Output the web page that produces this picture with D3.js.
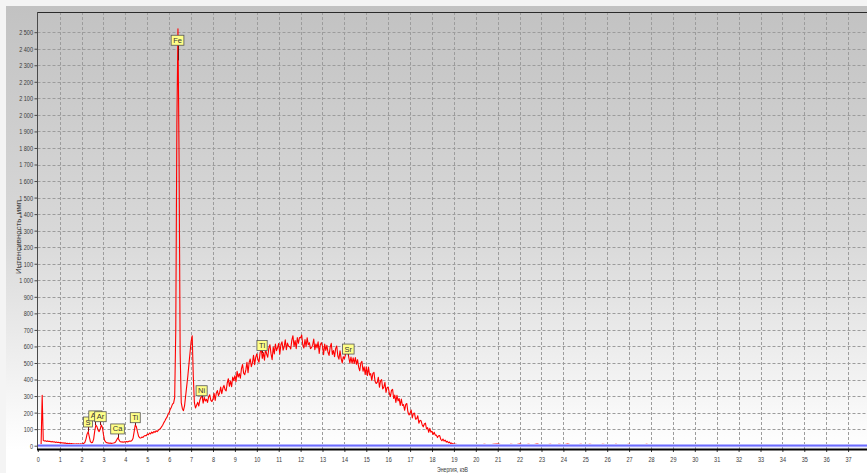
<!DOCTYPE html>
<html>
<head>
<meta charset="utf-8">
<script src="https://cdn.jsdelivr.net/npm/d3@7/dist/d3.min.js"></script>
<style>
  html, body { margin: 0; padding: 0; background: #f4f4f4; overflow: hidden; }
  svg { display: block; }
</style>
</head>
<body>
<svg id="chart" width="867" height="473"></svg>
<script>
// Measured spectrum: counts per 0.05 keV channel, 0.00 … 20.00 keV (one row = 0.5 keV)
const channelStep = 0.05;
const spectrumCounts = [
  0, 0, 0, 2, 305, 32, 28, 30, 26, 29,
  25, 27, 23, 26, 22, 24, 20, 22, 19, 21,
  18, 20, 16, 18, 15, 17, 13, 15, 12, 14,
  11, 13, 10, 12, 9, 11, 10, 12, 9, 11,
  10, 12, 14, 20, 40, 70, 85, 55, 25, 18,
  20, 40, 90, 125, 115, 95, 85, 100, 125, 110,
  65, 32, 22, 18, 17, 15, 16, 14, 15, 16,
  18, 22, 35, 47, 38, 26, 22, 23, 21, 24,
  22, 25, 23, 26, 28, 27, 32, 45, 85, 125,
  115, 85, 58, 48, 46, 52, 50, 58, 62, 60,
  70, 66, 77, 71, 82, 76, 86, 80, 90, 85,
  93, 99, 104, 114, 124, 138, 149, 163, 173, 190,
  200, 221, 233, 251, 258, 290, 700, 1950, 2520, 1750,
  560, 260, 225, 212, 240, 300, 360, 420, 490, 560,
  630, 665, 420, 260, 228, 245, 262, 240, 275, 295,
  300, 257, 293, 270, 281, 262, 295, 308, 275, 267,
  282, 316, 273, 317, 333, 303, 319, 354, 314, 347,
  365, 339, 331, 379, 405, 359, 391, 357, 415, 393,
  423, 387, 450, 415, 436, 408, 466, 491, 439, 429,
  458, 504, 442, 503, 524, 478, 501, 547, 490, 534,
  555, 519, 505, 561, 589, 528, 563, 517, 586, 554,
  535, 590, 610, 555, 520, 596, 555, 615, 575, 593,
  618, 553, 610, 628, 578, 598, 640, 580, 620, 601,
  600, 585, 638, 665, 601, 635, 586, 654, 619, 654,
  652, 669, 609, 591, 642, 598, 653, 610, 623, 587,
  593, 608, 645, 580, 615, 591, 628, 558, 610, 623,
  602, 550, 614, 576, 607, 565, 546, 596, 619, 552,
  575, 538, 587, 603, 542, 523, 573, 528, 500, 538,
  525, 551, 562, 573, 534, 500, 536, 497, 531, 497,
  533, 492, 520, 475, 453, 500, 510, 450, 477, 430,
  477, 424, 475, 427, 436, 395, 437, 443, 389, 376,
  383, 414, 353, 392, 399, 343, 354, 383, 322, 351,
  355, 317, 297, 334, 341, 285, 306, 262, 305, 271,
  285, 244, 282, 243, 248, 214, 249, 255, 204, 186,
  198, 216, 168, 195, 197, 160, 163, 181, 136, 153,
  151, 127, 114, 131, 136, 101, 109, 81, 105, 82,
  87, 68, 81, 64, 64, 49, 60, 61, 39, 30,
  40, 28, 34, 22, 27, 18, 22, 13, 16, 9,
  11, 8, 9, 6, 7, 5, 6, 4, 5, 3,
  4, 3, 2, 3, 2, 1, 2, 1, 2, 1,
  1
];

// High-energy tail, coarser 0.2 keV channels from 20.2 keV
const tailStart = 20.2;
const tailStep = 0.2;
const tailCounts = [
  6, 9, 4, 8, 10, 5, 4, 9, 6, 10,
  4, 8, 5, 10, 4, 6, 9, 4, 8, 5,
  10, 4, 6, 8, 4, 9, 5, 4, 8, 6,
  4, 9, 4, 5, 8, 4, 6, 4, 8, 4,
  0, 1, 0, 0, 1, 0, 0, 0, 1, 0,
  0, 0, 1, 0, 0, 0, 0, 1, 0, 0,
  0, 0, 0, 1, 0, 0, 0, 0, 0, 0,
  0, 1, 0, 0, 0, 0, 0, 0, 0, 0,
  0, 0, 0, 0, 0, 0, 0, 0, 0
];

// Background (blue) reference series
const backgroundEnergy = [0, 38];
const backgroundCounts = [0, 0];

// Element markers
const peakNames  = ["S", "Ag", "Ar", "Ca", "Ti", "Fe", "Ni", "Tl", "Sr"];
const peakEnergy = [2.29, 2.63, 2.86, 3.64, 4.45, 6.38, 7.48, 10.24, 14.18];
const peakBoxCounts  = [113, 150, 145, 71, 139, 2421, 302, 575, 554];
const peakLineCounts = [85, 125, 125, 47, 125, 2330, 290, 560, 545];

// Axes
const xTickValues = d3.range(0, 38, 1);
const yTickValues = d3.range(0, 2600, 100);
const xTitle = "Энергия, кэВ";
const yTitle = "Интенсивность, имп";

// ---------------------------------------------------------------
const W = 867, H = 473;
const plotLeft = 37.5, plotTop = 12, plotBottom = 449, plotRight = W;

const x = d3.scaleLinear().domain([0, 38]).range([37.8, 37.8 + 38 * 21.9]);
const y = d3.scaleLinear().domain([-20, 2622]).range([plotBottom, plotTop]);

const ruLocale = d3.formatLocale({ decimal: ",", thousands: " ", grouping: [3], currency: ["", ""] });
const fmt = ruLocale.format(",");

const svg = d3.select("#chart");
const defs = svg.append("defs");

const grad = defs.append("linearGradient")
  .attr("id", "panelFill").attr("x1", 0).attr("y1", 0).attr("x2", 0).attr("y2", 1);
grad.append("stop").attr("offset", "0%").attr("stop-color", "#c2c2c2");
grad.append("stop").attr("offset", "50%").attr("stop-color", "#d9d9d9");
grad.append("stop").attr("offset", "95%").attr("stop-color", "#ffffff");
grad.append("stop").attr("offset", "100%").attr("stop-color", "#ffffff");

defs.append("clipPath").attr("id", "plotClip")
  .append("rect")
  .attr("x", plotLeft).attr("y", plotTop)
  .attr("width", plotRight - plotLeft).attr("height", plotBottom - plotTop);

// Panel background
svg.append("rect")
  .attr("x", 6).attr("y", 6).attr("width", W - 6).attr("height", H - 6)
  .attr("fill", "url(#panelFill)");

// Grid
const grid = svg.append("g").attr("clip-path", "url(#plotClip)");
grid.selectAll("line.vgrid")
  .data(xTickValues.filter(d => d > 0))
  .join("line")
  .attr("class", "vgrid")
  .attr("x1", d => Math.round(x(d)) + 0.5).attr("x2", d => Math.round(x(d)) + 0.5)
  .attr("y1", plotTop).attr("y2", plotBottom)
  .attr("stroke", "#9c9c9c").attr("stroke-width", 1).attr("stroke-dasharray", "3,2");
grid.selectAll("line.hgrid")
  .data(yTickValues.filter(d => d > 0))
  .join("line")
  .attr("class", "hgrid")
  .attr("x1", plotLeft).attr("x2", plotRight)
  .attr("y1", d => Math.round(y(d)) + 0.5).attr("y2", d => Math.round(y(d)) + 0.5)
  .attr("stroke", "#9c9c9c").attr("stroke-width", 1).attr("stroke-dasharray", "3,2");

// Spectrum series
const spectrum = spectrumCounts.map((c, i) => ({ e: +(i * channelStep).toFixed(2), c }))
  .concat(tailCounts.map((c, i) => ({ e: +(tailStart + i * tailStep).toFixed(2), c })));

const line = d3.line().x(d => x(d.e)).y(d => y(d.c));

const plot = svg.append("g").attr("clip-path", "url(#plotClip)");
plot.append("path")
  .datum(spectrum)
  .attr("d", line)
  .attr("fill", "none")
  .attr("stroke", "#ff0000")
  .attr("stroke-width", 1.1)
  .attr("stroke-linejoin", "round");

// Background series (blue)
const background = backgroundEnergy.map((e, i) => ({ e, c: backgroundCounts[i] }));
plot.append("path")
  .datum(background)
  .attr("d", line)
  .attr("fill", "none")
  .attr("stroke", "#b4b4ff")
  .attr("stroke-width", 3.2);
plot.append("path")
  .datum(background)
  .attr("d", line)
  .attr("fill", "none")
  .attr("stroke", "#5c5cff")
  .attr("stroke-width", 1);

// Frame: top border, left axis line, bottom axis line
svg.append("line")
  .attr("x1", plotLeft).attr("x2", plotRight).attr("y1", plotTop + 0.5).attr("y2", plotTop + 0.5)
  .attr("stroke", "#2a2a2a").attr("stroke-width", 1);

const labelFont = "'Liberation Sans', Arial, sans-serif";
const squeeze = 0.74;

// Y axis
const yAxis = d3.axisLeft(y).tickValues(yTickValues).tickSize(3).tickSizeOuter(0).tickFormat(fmt);
const yg = svg.append("g").attr("transform", `translate(${plotLeft},0)`).call(yAxis);
yg.select(".domain").attr("stroke", "#4a4a4a").attr("d", `M0,${plotTop}V${plotBottom}`);
yg.selectAll(".tick line").attr("stroke", "#4a4a4a");
yg.selectAll(".tick text")
  .attr("x", -4.5 / squeeze)
  .attr("transform", `scale(${squeeze},1)`)
  .attr("fill", "#3a3a3a")
  .style("font-family", labelFont)
  .style("font-size", "7.5px");

// X axis
const xAxis = d3.axisBottom(x).tickValues(xTickValues).tickSize(3).tickPadding(5).tickSizeOuter(0).tickFormat(d3.format("d"));
const xg = svg.append("g").attr("transform", `translate(0,${plotBottom})`).call(xAxis);
xg.select(".domain").remove();
xg.selectAll(".tick line").attr("stroke", "#3a3a3a");
xg.selectAll(".tick text")
  .attr("x", 0)
  .attr("transform", `scale(${squeeze},1)`)
  .attr("fill", "#3a3a3a")
  .style("font-family", labelFont)
  .style("font-size", "7.5px");

svg.append("line")
  .attr("x1", plotLeft - 0.5).attr("x2", plotRight).attr("y1", plotBottom + 0.5).attr("y2", plotBottom + 0.5)
  .attr("stroke", "#000").attr("stroke-width", 2);

// Axis titles
svg.append("text")
  .attr("x", 437).attr("y", 471.5)
  .attr("textLength", 31).attr("lengthAdjust", "spacingAndGlyphs")
  .attr("fill", "#3a3a3a")
  .style("font-family", labelFont).style("font-size", "7px")
  .text(xTitle);

svg.append("text")
  .attr("transform", "translate(21,237) rotate(-90)")
  .attr("text-anchor", "middle")
  .attr("textLength", 74).attr("lengthAdjust", "spacingAndGlyphs")
  .attr("fill", "#3a3a3a")
  .style("font-family", labelFont).style("font-size", "7.5px")
  .text(yTitle);

// Element markers: leader line + yellow tag (Ag tag sits partly under Ar, as plotted)
const markers = svg.append("g");
peakNames.forEach((name, i) => {
  const cx = x(peakEnergy[i]);
  const boxBottom = y(peakBoxCounts[i]);
  const lineEnd = Math.max(y(peakLineCounts[i]), boxBottom);
  markers.append("line")
    .attr("x1", Math.round(cx) + 0.5).attr("x2", Math.round(cx) + 0.5)
    .attr("y1", boxBottom).attr("y2", lineEnd)
    .attr("stroke", "#7a0f0f").attr("stroke-width", 1);
  const g = markers.append("g");
  const t = g.append("text")
    .attr("x", cx).attr("y", boxBottom - 2.5)
    .attr("text-anchor", "middle")
    .attr("fill", "#333")
    .style("font-family", labelFont).style("font-size", "7.5px")
    .text(name);
  const w = t.node().getComputedTextLength() + 4;
  g.insert("rect", "text")
    .attr("x", cx - w / 2).attr("y", boxBottom - 10)
    .attr("width", w).attr("height", 10)
    .attr("fill", "#ffff88").attr("stroke", "#555").attr("stroke-width", 0.8);
});
</script>
</body>
</html>
